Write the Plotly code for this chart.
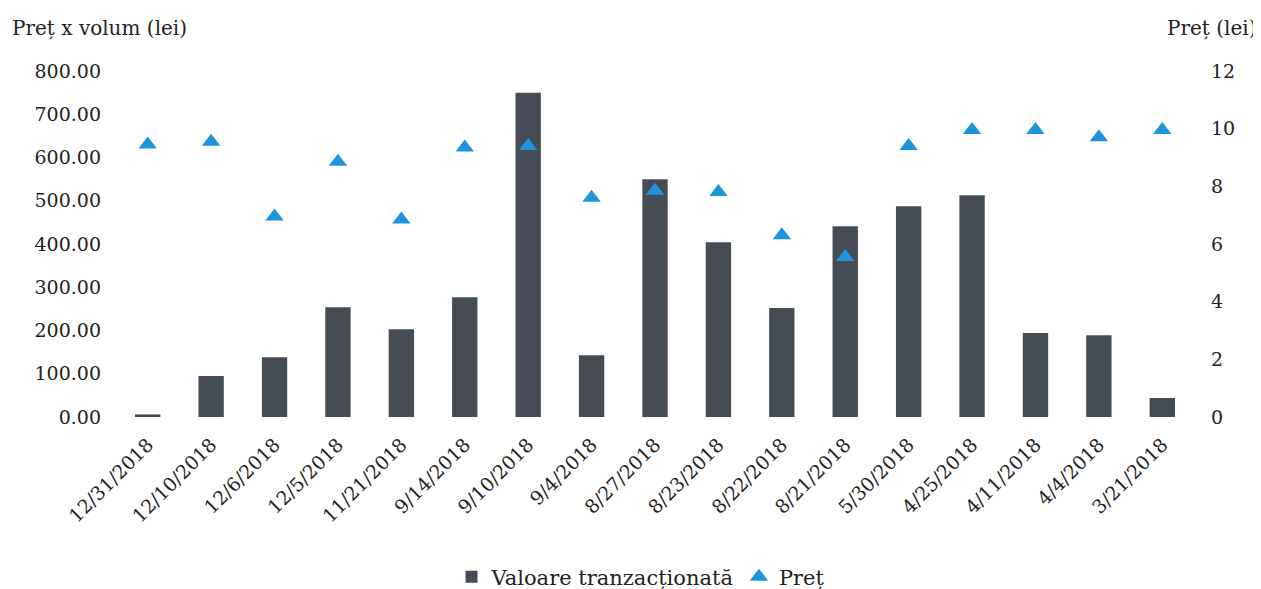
import plotly.graph_objects as go

dates = ["12/31/2018", "12/10/2018", "12/6/2018", "12/5/2018", "11/21/2018", "9/14/2018",
         "9/10/2018", "9/4/2018", "8/27/2018", "8/23/2018", "8/22/2018", "8/21/2018",
         "5/30/2018", "4/25/2018", "4/11/2018", "4/4/2018", "3/21/2018"]
valoare = [6, 95, 138, 254, 203, 277, 750, 143, 550, 404, 252, 441, 487, 513, 194, 189, 44]
pret = [9.45, 9.55, 6.95, 8.85, 6.85, 9.35, 9.4, 7.6, 7.85, 7.8, 6.3, 5.55, 9.4, 9.95, 9.95, 9.7, 9.95]

FONT = "DejaVu Serif"
BAR = "#464c54"
TRI = "#1e94dd"

# page offset from default body margin
OFF = 8
W, H = 1261 - OFF, 589 - OFF
# plot area in page pixels: left 116, right 1194, top 71, bottom 417
L = 116 - OFF
T = 71 - OFF
plot_w = 1194 - 116
plot_h = 417 - 71
R = W - L - plot_w
B = H - T - plot_h


def px_x(page_x):
    return (page_x - 116) / plot_w


def px_y(page_y):
    return (417 - page_y) / plot_h


fig = go.Figure()
fig.add_trace(go.Bar(x=dates, y=valoare, name="Valoare tranzacționată",
                     marker=dict(color=BAR, line=dict(width=0)), yaxis="y"))
fig.add_trace(go.Scatter(x=dates, y=pret, name="Preț", mode="markers", yaxis="y2",
                         marker=dict(symbol="triangle-up", size=16, color=TRI)))

fig.update_layout(
    width=W, height=H,
    margin=dict(l=L, r=R, t=T, b=B, autoexpand=False),
    paper_bgcolor="white", plot_bgcolor="white",
    font=dict(family=FONT, size=19, color="#222222"),
    bargap=0.6,
    showlegend=True,
    legend=dict(orientation="h", x=px_x(641), xanchor="center", y=px_y(577),
                yanchor="middle", font=dict(size=21), itemwidth=30, traceorder="normal"),
    xaxis=dict(type="category", range=[-0.5, len(dates) - 0.5], tickangle=-45,
               showgrid=False, showline=False, ticks="", tickfont=dict(size=19),
               automargin=False, ticklabelstandoff=12),
    yaxis=dict(range=[0, 800], dtick=100, tickformat=".2f", showgrid=False,
               zeroline=False, showline=False, ticks="", ticklabelstandoff=14,
               tickfont=dict(size=19), automargin=False),
    yaxis2=dict(range=[0, 12], dtick=2, overlaying="y", side="right", showgrid=False,
                zeroline=False, showline=False, ticks="", ticklabelstandoff=16,
                tickfont=dict(size=19), automargin=False),
    annotations=[
        dict(text="Preț x volum (lei)", x=px_x(10), y=px_y(28),
             xref="paper", yref="paper", showarrow=False, xanchor="left", yanchor="middle",
             font=dict(size=20)),
        dict(text="Preț (lei)", x=px_x(1258), y=px_y(28),
             xref="paper", yref="paper", showarrow=False, xanchor="right", yanchor="middle",
             font=dict(size=20)),
    ],
)

fig.write_html("out.html")
